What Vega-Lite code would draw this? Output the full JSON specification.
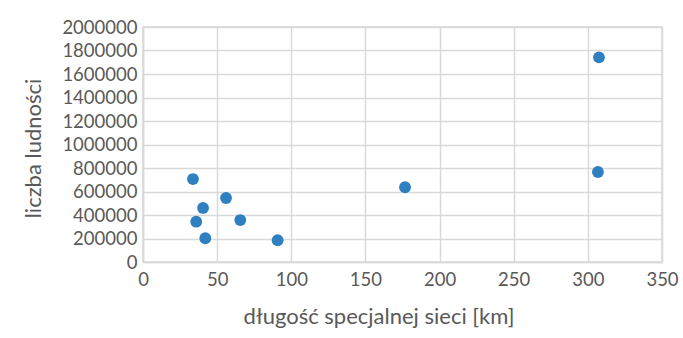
{
  "$schema": "https://vega.github.io/schema/vega-lite/v6.json",
  "width": 519,
  "height": 235,
  "autosize": {"type": "none"},
  "padding": {"left": 143, "top": 27, "right": 21, "bottom": 76},
  "background": "white",
  "config": {
    "font": "Lato",
    "view": {"stroke": "#d9d9d9", "strokeWidth": 1.5},
    "axis": {
      "gridColor": "#d9d9d9",
      "gridWidth": 1.5,
      "domainColor": "#d9d9d9",
      "domainWidth": 1.5,
      "ticks": false,
      "labelFont": "Lato",
      "labelFontSize": 18.5,
      "labelColor": "#595959",
      "titleFont": "Lato",
      "titleFontSize": 22,
      "titleFontWeight": "normal",
      "titleColor": "#595959"
    }
  },
  "data": {
    "values": [
      {"km": 33.7, "ludnosc": 706000},
      {"km": 35.9, "ludnosc": 343000},
      {"km": 40.5, "ludnosc": 460000},
      {"km": 42.0, "ludnosc": 202000},
      {"km": 56.0, "ludnosc": 545000},
      {"km": 65.6, "ludnosc": 357000},
      {"km": 90.8, "ludnosc": 185000},
      {"km": 176.7, "ludnosc": 636000},
      {"km": 306.8, "ludnosc": 766000},
      {"km": 307.5, "ludnosc": 1742000}
    ]
  },
  "mark": {"type": "circle", "size": 140, "opacity": 1, "color": "#2e80c1"},
  "encoding": {
    "x": {
      "field": "km",
      "type": "quantitative",
      "scale": {"domain": [0, 350], "nice": false},
      "axis": {"values": [0, 50, 100, 150, 200, 250, 300, 350], "title": "długość specjalnej sieci [km]", "labelPadding": 8, "titlePadding": 18, "titleX": 235.5, "labelFlush": false}
    },
    "y": {
      "field": "ludnosc",
      "type": "quantitative",
      "scale": {"domain": [0, 2000000], "nice": false},
      "axis": {"values": [0, 200000, 400000, 600000, 800000, 1000000, 1200000, 1400000, 1600000, 1800000, 2000000], "format": "d", "title": "liczba ludności", "labelPadding": 6, "titlePadding": 16, "titleY": 121, "labelFlush": false}
    }
  }
}
